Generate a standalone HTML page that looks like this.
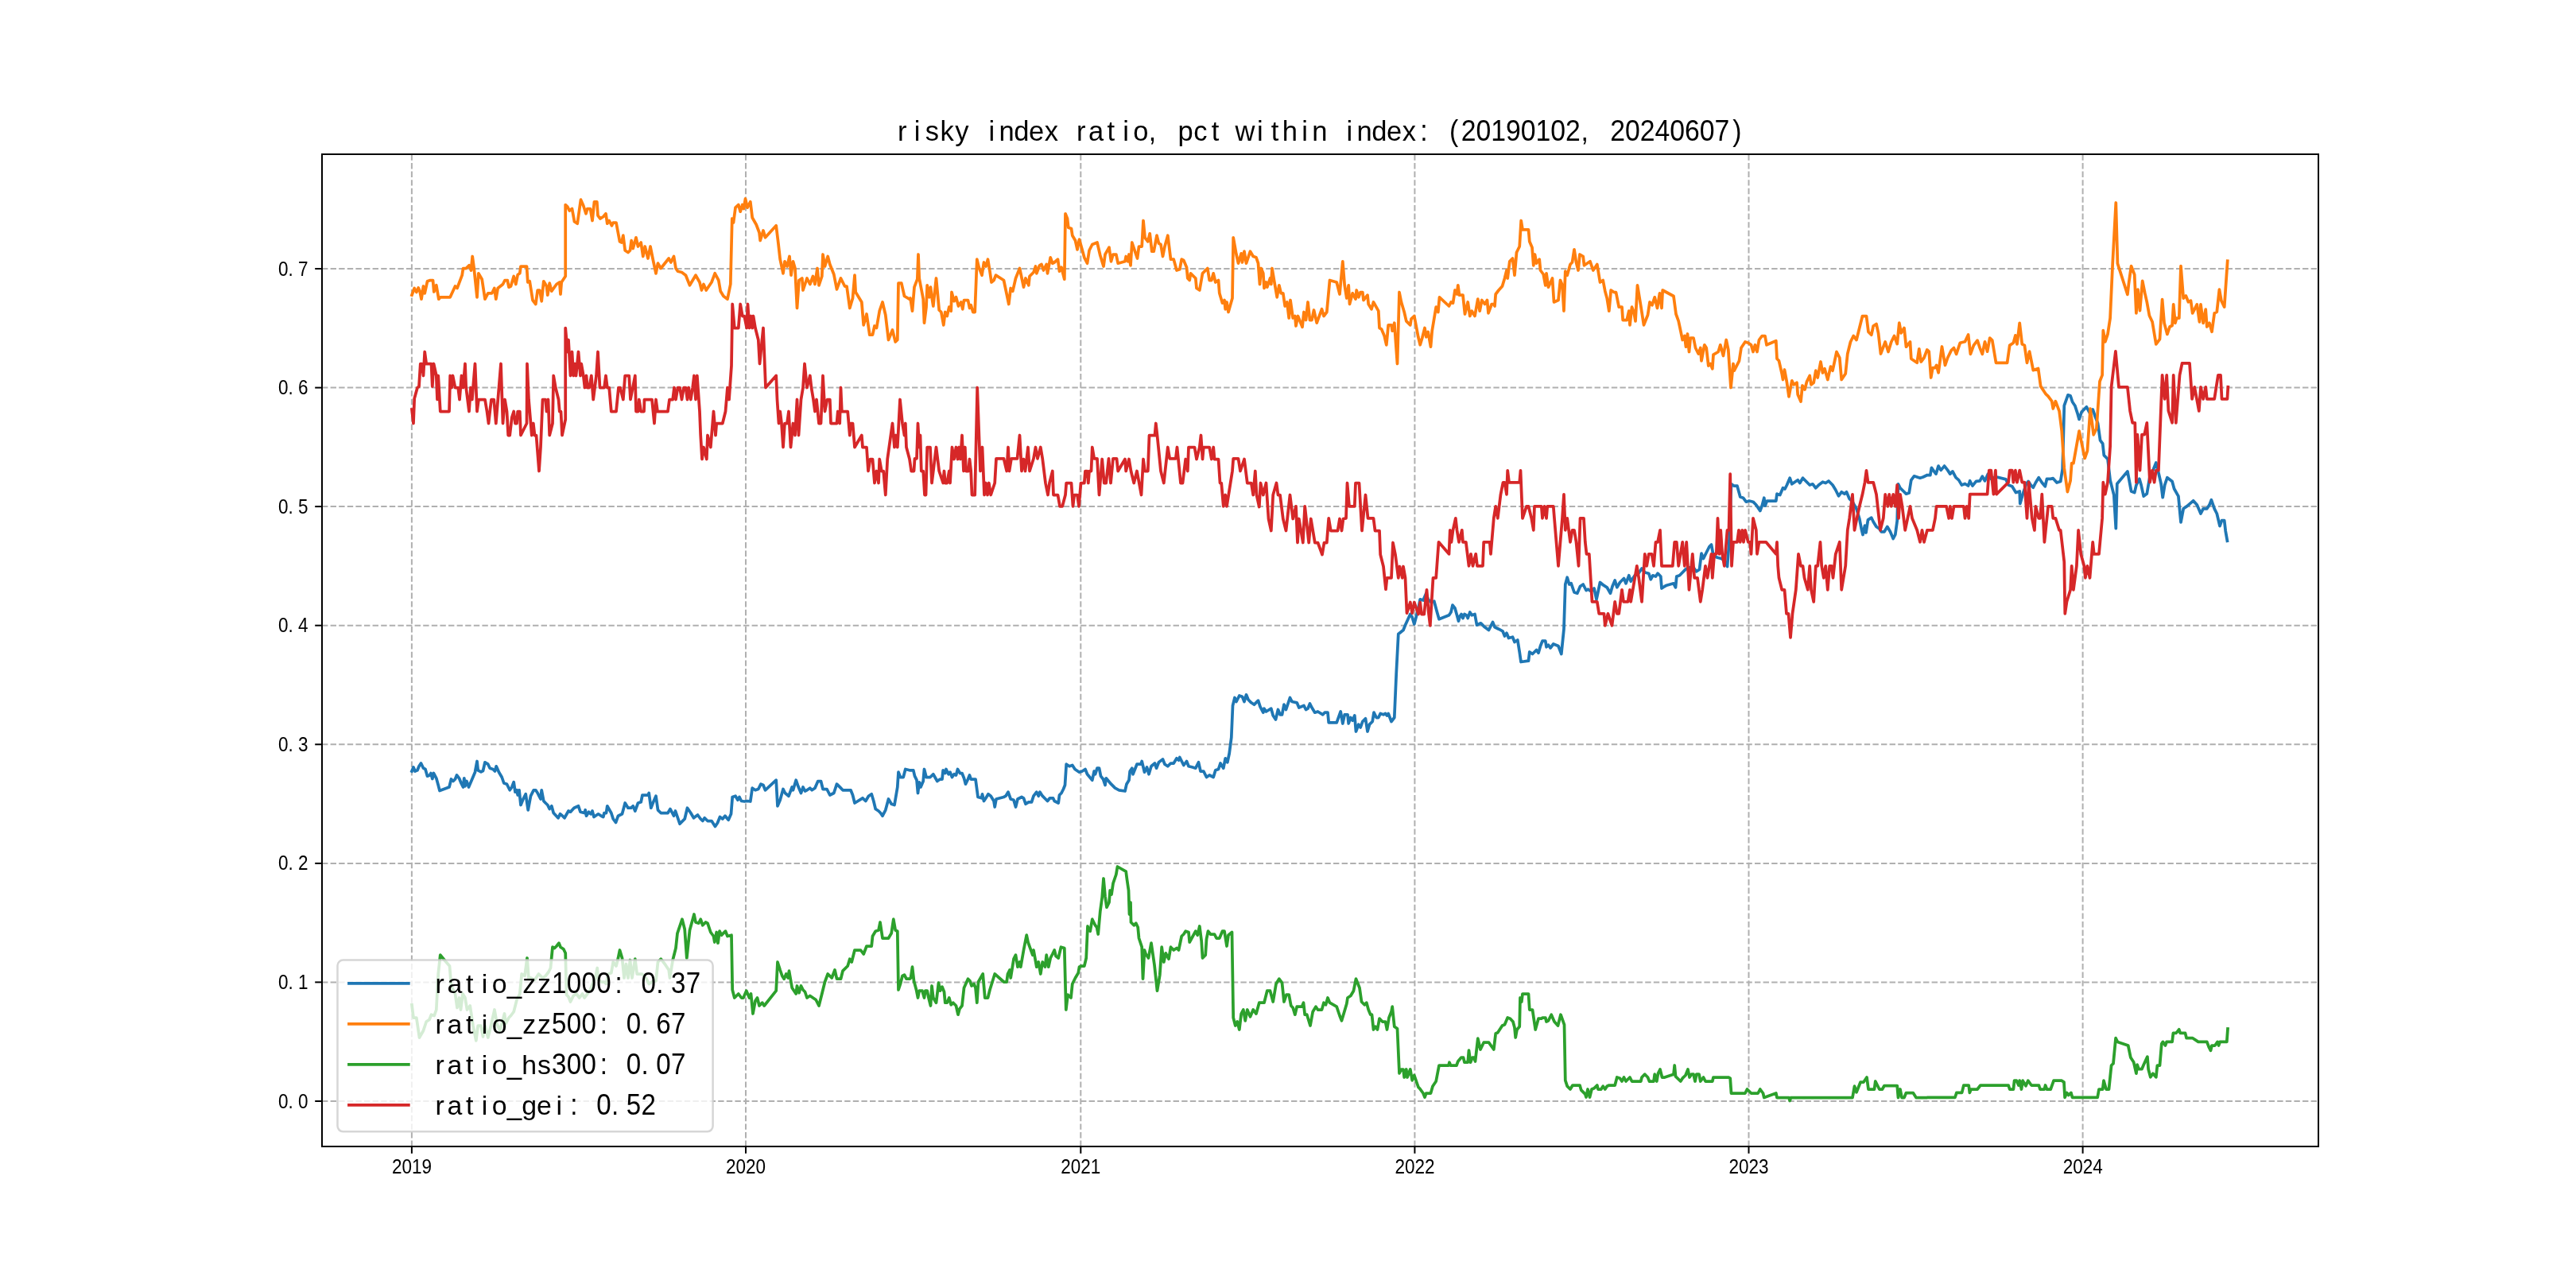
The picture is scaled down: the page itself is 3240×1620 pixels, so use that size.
<!DOCTYPE html>
<html><head><meta charset="utf-8"><style>
html,body{margin:0;padding:0;background:#fff;width:3240px;height:1620px;overflow:hidden}
svg{display:block;will-change:transform}
</style></head><body>
<svg width="3240" height="1620" viewBox="0 0 3240 1620">
<rect width="3240" height="1620" fill="#fff"/>
<g stroke="#b0b0b0" stroke-width="2" stroke-dasharray="7.4 3.2" fill="none"><line x1="517.9" y1="1442.0" x2="517.9" y2="194.0"/><line x1="938.0" y1="1442.0" x2="938.0" y2="194.0"/><line x1="1359.3" y1="1442.0" x2="1359.3" y2="194.0"/><line x1="1779.4" y1="1442.0" x2="1779.4" y2="194.0"/><line x1="2199.5" y1="1442.0" x2="2199.5" y2="194.0"/><line x1="2619.6" y1="1442.0" x2="2619.6" y2="194.0"/><line x1="405.0" y1="1385.0" x2="2916.0" y2="1385.0"/><line x1="405.0" y1="1235.4" x2="2916.0" y2="1235.4"/><line x1="405.0" y1="1085.9" x2="2916.0" y2="1085.9"/><line x1="405.0" y1="936.3" x2="2916.0" y2="936.3"/><line x1="405.0" y1="786.7" x2="2916.0" y2="786.7"/><line x1="405.0" y1="637.1" x2="2916.0" y2="637.1"/><line x1="405.0" y1="487.6" x2="2916.0" y2="487.6"/><line x1="405.0" y1="338.0" x2="2916.0" y2="338.0"/></g><path d="M518.0 970.0 L520.0 965.0 L522.0 970.0 L525.0 968.8 L527.0 963.8 L529.5 960.0 L532.5 966.2 L535.0 967.5 L537.5 976.2 L540.5 975.0 L542.0 972.5 L543.8 979.5 L545.5 972.5 L548.8 978.8 L551.2 987.5 L553.0 994.5 L565.0 990.0 L567.5 980.0 L570.0 982.5 L572.5 980.0 L574.5 975.0 L577.5 978.8 L580.0 985.0 L582.5 990.0 L583.8 978.8 L585.0 988.8 L587.0 982.5 L589.5 990.0 L593.8 980.0 L597.5 971.2 L600.0 957.5 L601.2 968.8 L605.0 970.8 L607.5 969.5 L610.0 958.8 L613.8 961.2 L616.2 966.2 L620.0 967.5 L622.5 970.0 L624.2 963.8 L627.5 971.2 L631.2 977.5 L633.8 985.0 L637.5 986.2 L641.2 993.8 L643.8 990.0 L646.2 983.8 L648.0 996.2 L650.0 993.8 L651.2 1000.0 L653.0 993.8 L655.0 1012.5 L657.5 1006.2 L661.2 998.8 L664.2 1018.8 L667.5 1001.2 L671.2 993.8 L673.8 993.8 L676.2 997.5 L678.0 1001.2 L680.0 1005.0 L681.2 993.8 L683.8 1007.5 L686.2 1010.0 L688.8 1012.5 L691.2 1017.5 L693.8 1013.8 L696.2 1022.5 L702.0 1028.8 L704.5 1023.8 L707.5 1026.2 L710.0 1028.8 L715.0 1020.0 L717.5 1021.2 L722.0 1016.2 L727.5 1013.8 L730.0 1021.2 L735.0 1022.5 L736.2 1018.8 L737.5 1026.2 L740.5 1021.2 L743.0 1023.8 L745.0 1020.0 L747.0 1027.5 L752.5 1023.8 L756.2 1026.2 L758.8 1027.5 L760.0 1022.5 L762.5 1022.5 L763.8 1013.8 L768.8 1022.5 L771.2 1030.0 L774.5 1034.5 L777.5 1026.2 L782.5 1023.8 L786.2 1010.0 L790.0 1016.2 L793.8 1016.2 L796.2 1013.8 L798.8 1020.0 L802.5 1010.0 L806.2 1008.8 L808.0 1000.0 L815.0 1000.0 L816.2 997.5 L818.8 1016.2 L821.2 1010.0 L825.0 1001.2 L827.5 1018.8 L831.2 1022.5 L840.0 1022.5 L843.0 1017.5 L847.5 1026.2 L849.5 1020.0 L855.0 1036.2 L861.2 1030.0 L864.5 1016.2 L868.8 1022.5 L872.5 1028.8 L877.5 1025.0 L881.2 1030.0 L883.8 1032.5 L886.2 1028.8 L890.0 1032.5 L895.0 1032.5 L899.5 1039.5 L902.5 1035.0 L905.5 1027.5 L908.8 1030.0 L912.0 1026.2 L916.2 1031.2 L919.5 1023.8 L921.2 1002.5 L925.0 1001.2 L928.0 1006.2 L930.0 1002.5 L932.5 1007.5 L936.2 1008.0 L940.0 1007.5 L943.8 1008.0 L946.2 991.2 L950.0 993.8 L953.8 992.5 L957.0 986.2 L960.0 987.5 L962.5 993.8 L976.2 981.2 L978.0 1013.8 L981.2 1006.2 L985.0 992.5 L987.5 997.5 L992.0 1001.2 L996.2 990.0 L997.5 993.8 L1001.2 981.2 L1003.8 988.8 L1007.5 997.5 L1010.0 990.0 L1012.5 995.0 L1015.0 993.8 L1018.8 991.2 L1021.2 993.8 L1025.0 991.2 L1028.8 982.5 L1032.5 982.5 L1035.0 992.5 L1040.0 992.5 L1043.8 1000.0 L1048.8 997.5 L1052.5 986.2 L1057.5 991.2 L1060.0 993.8 L1066.2 993.8 L1070.0 993.8 L1072.5 1000.0 L1075.0 1010.0 L1085.0 1003.8 L1088.8 1007.5 L1092.5 1001.2 L1096.2 998.8 L1098.8 1007.5 L1101.2 1017.5 L1105.0 1020.0 L1107.5 1022.5 L1110.0 1026.2 L1113.8 1018.8 L1117.5 1005.0 L1121.2 1011.2 L1125.0 1012.5 L1128.8 990.0 L1130.0 971.2 L1132.5 977.5 L1136.2 977.5 L1138.8 967.5 L1144.0 968.8 L1148.8 968.8 L1150.5 976.2 L1153.0 981.2 L1154.5 997.5 L1156.2 983.8 L1158.0 990.0 L1161.2 982.5 L1162.5 967.5 L1165.0 977.5 L1170.0 977.5 L1173.8 973.8 L1178.8 982.5 L1182.5 980.0 L1185.0 980.0 L1186.2 968.8 L1188.8 972.5 L1190.0 967.5 L1193.0 973.8 L1195.0 971.2 L1197.5 977.5 L1200.0 973.8 L1202.5 975.0 L1204.5 967.5 L1207.5 972.5 L1210.0 972.5 L1212.5 978.8 L1214.5 986.2 L1217.5 980.0 L1219.5 975.0 L1221.2 980.0 L1227.0 980.0 L1230.0 1002.5 L1234.5 1003.8 L1235.5 998.8 L1237.5 1007.5 L1240.0 1003.8 L1243.0 998.8 L1246.2 1001.2 L1250.0 1007.5 L1251.2 1015.0 L1253.0 1005.0 L1262.5 1002.5 L1265.0 1001.2 L1268.0 996.2 L1271.2 1005.0 L1275.0 1006.2 L1277.5 1015.0 L1280.0 1005.0 L1285.0 1002.5 L1287.5 1003.8 L1290.0 1011.2 L1293.8 1008.8 L1297.5 1008.8 L1300.0 1001.2 L1303.8 996.2 L1306.2 1001.2 L1308.0 996.2 L1311.2 1001.2 L1315.0 1005.0 L1317.5 1007.5 L1320.5 1003.8 L1324.5 1003.8 L1326.2 1007.5 L1331.2 1010.0 L1332.5 1000.0 L1335.0 997.5 L1337.5 992.5 L1339.5 987.5 L1341.2 961.2 L1345.0 963.8 L1348.8 962.5 L1352.0 967.5 L1357.5 971.2 L1361.2 970.0 L1365.0 967.5 L1367.5 973.8 L1373.8 981.2 L1376.2 970.0 L1377.5 973.8 L1380.0 966.2 L1382.5 966.2 L1384.5 976.2 L1387.5 980.0 L1390.0 987.5 L1391.2 978.8 L1397.5 986.2 L1402.5 991.2 L1407.5 993.8 L1415.0 995.0 L1417.0 986.2 L1420.0 981.2 L1421.2 970.0 L1423.8 966.2 L1425.0 973.8 L1430.0 961.2 L1435.0 961.2 L1436.2 957.5 L1439.5 971.2 L1442.5 965.0 L1445.0 973.8 L1448.0 963.8 L1452.5 960.0 L1454.5 966.2 L1457.5 958.8 L1462.5 955.0 L1465.0 961.2 L1468.8 963.8 L1472.5 960.0 L1476.2 960.0 L1480.0 953.8 L1482.5 956.2 L1483.8 952.5 L1488.8 962.5 L1492.5 957.5 L1495.0 963.8 L1500.0 965.0 L1503.8 966.2 L1507.5 958.8 L1510.0 970.0 L1513.8 970.0 L1517.5 977.5 L1521.2 975.0 L1526.2 977.5 L1528.8 968.8 L1532.5 967.5 L1535.0 960.0 L1538.8 966.2 L1541.2 953.8 L1543.8 958.8 L1546.2 947.5 L1548.8 927.5 L1550.5 887.5 L1553.0 877.5 L1555.0 882.5 L1558.8 875.0 L1562.5 876.2 L1565.0 882.5 L1567.5 873.8 L1570.0 880.0 L1573.8 883.8 L1577.5 886.2 L1582.5 881.2 L1585.0 888.8 L1588.8 896.2 L1590.0 891.2 L1592.5 895.0 L1598.8 891.2 L1601.2 900.0 L1604.5 905.0 L1607.5 892.5 L1610.0 898.8 L1612.5 898.8 L1615.0 886.2 L1617.5 892.5 L1622.5 877.5 L1625.0 882.5 L1631.2 883.8 L1633.8 890.0 L1640.0 887.5 L1642.5 892.5 L1645.0 891.2 L1647.5 885.0 L1650.0 890.0 L1653.8 896.2 L1657.5 895.0 L1663.8 898.8 L1666.2 896.2 L1670.0 896.2 L1671.2 908.8 L1681.2 908.8 L1686.2 895.0 L1688.8 910.0 L1691.2 898.8 L1695.0 898.8 L1696.2 910.0 L1698.8 902.5 L1701.2 906.2 L1703.8 900.0 L1705.5 920.0 L1708.8 911.2 L1711.2 915.0 L1713.8 907.5 L1717.5 903.8 L1720.0 920.0 L1722.5 911.2 L1726.2 907.5 L1728.0 896.2 L1731.2 902.5 L1733.8 902.5 L1736.2 897.5 L1740.0 898.8 L1742.5 897.5 L1744.5 900.0 L1746.2 897.5 L1750.0 907.5 L1753.8 902.5 L1756.2 847.5 L1758.8 797.5 L1765.0 792.5 L1767.5 786.2 L1773.8 772.5 L1776.2 776.2 L1778.8 785.0 L1784.0 765.0 L1786.2 753.8 L1790.0 755.0 L1793.8 746.2 L1796.2 753.8 L1800.0 757.5 L1803.8 756.2 L1807.5 770.0 L1810.0 778.8 L1822.5 773.8 L1825.0 770.0 L1827.0 761.2 L1830.0 765.0 L1832.5 773.8 L1834.5 781.2 L1836.2 775.0 L1838.0 772.5 L1840.0 777.5 L1842.0 772.5 L1844.5 773.8 L1846.2 777.5 L1848.8 770.0 L1851.2 773.8 L1855.0 772.5 L1857.5 786.2 L1862.5 783.8 L1867.5 788.8 L1872.5 792.5 L1877.5 782.5 L1880.0 788.8 L1885.0 791.2 L1890.0 793.8 L1892.5 800.0 L1895.0 796.2 L1897.5 802.5 L1902.5 801.2 L1905.0 807.5 L1908.8 805.0 L1911.2 820.0 L1913.0 832.5 L1922.5 831.2 L1923.8 820.0 L1927.5 822.5 L1932.5 817.5 L1935.0 821.2 L1937.5 812.5 L1940.0 806.2 L1943.8 806.2 L1945.0 813.8 L1947.5 811.2 L1950.0 815.0 L1953.8 810.0 L1960.0 812.5 L1963.8 822.5 L1967.0 791.2 L1968.8 735.0 L1971.2 726.2 L1973.8 735.0 L1976.2 733.8 L1980.0 745.0 L1983.8 746.2 L1987.5 737.5 L1991.2 735.0 L1995.0 742.5 L1997.5 741.2 L2001.2 743.8 L2005.0 740.0 L2008.0 753.8 L2012.5 732.5 L2017.0 736.2 L2021.2 738.8 L2025.5 746.2 L2028.0 737.5 L2031.2 730.0 L2033.8 738.8 L2037.5 732.5 L2042.5 727.5 L2045.0 733.8 L2048.8 723.8 L2051.2 731.2 L2056.2 723.8 L2060.0 722.5 L2065.0 715.0 L2068.8 720.0 L2073.8 721.2 L2076.2 728.8 L2078.8 723.8 L2082.5 725.0 L2085.0 721.2 L2088.8 725.0 L2090.0 740.0 L2093.8 737.5 L2096.2 736.2 L2105.0 733.8 L2107.5 738.8 L2108.8 725.0 L2112.5 723.8 L2116.2 720.0 L2120.0 716.2 L2123.8 713.8 L2130.0 713.8 L2133.8 718.8 L2137.5 716.2 L2140.0 696.2 L2142.5 702.5 L2146.2 695.0 L2150.0 687.5 L2152.5 685.0 L2155.0 698.8 L2160.0 701.2 L2165.0 702.5 L2168.8 705.0 L2172.5 712.5 L2175.0 680.0 L2177.5 608.8 L2181.2 611.2 L2185.0 611.2 L2188.8 625.0 L2192.5 626.2 L2196.2 631.2 L2200.0 630.0 L2205.0 631.2 L2208.8 635.0 L2213.8 642.5 L2216.2 636.2 L2218.8 626.2 L2220.0 636.2 L2222.5 630.0 L2233.8 630.0 L2235.0 621.2 L2238.8 622.5 L2242.5 613.8 L2245.0 615.0 L2247.5 610.0 L2251.2 601.2 L2253.8 608.8 L2257.5 606.2 L2261.2 603.8 L2263.8 607.5 L2267.5 601.2 L2271.2 605.0 L2276.2 610.0 L2280.0 608.8 L2283.8 613.8 L2287.5 610.0 L2292.5 606.2 L2296.2 607.5 L2300.0 605.0 L2305.0 610.0 L2308.8 616.2 L2312.5 623.8 L2316.2 618.8 L2320.0 621.2 L2322.5 618.8 L2326.2 627.5 L2330.0 631.2 L2335.0 640.0 L2338.8 652.5 L2341.2 665.0 L2343.0 672.5 L2345.5 661.2 L2347.0 670.0 L2349.5 653.8 L2353.8 651.2 L2356.2 656.2 L2360.0 662.5 L2363.8 665.0 L2366.2 668.8 L2370.0 668.8 L2373.8 662.5 L2377.5 668.8 L2381.2 677.5 L2383.8 672.5 L2386.2 655.0 L2387.5 608.8 L2390.0 613.8 L2393.8 617.5 L2397.5 621.2 L2401.2 620.0 L2403.8 603.8 L2407.5 598.8 L2411.2 600.0 L2415.0 601.2 L2418.8 600.0 L2424.0 597.5 L2427.8 597.6 L2429.4 588.3 L2432.5 592.9 L2435.0 596.1 L2438.1 586.1 L2441.2 591.4 L2445.6 586.1 L2449.7 591.4 L2452.8 596.1 L2455.9 592.9 L2460.0 600.7 L2463.7 603.9 L2467.4 610.1 L2471.5 608.5 L2475.6 611.0 L2477.7 604.8 L2480.9 611.0 L2485.5 605.4 L2490.2 604.8 L2493.3 599.2 L2496.5 604.8 L2500.5 596.1 L2504.3 602.3 L2510.5 599.8 L2523.0 602.9 L2526.1 610.1 L2530.8 611.7 L2535.5 619.5 L2540.2 617.9 L2540.8 633.5 L2544.8 619.5 L2548.6 608.5 L2551.1 605.4 L2554.2 610.1 L2557.3 613.2 L2560.4 607.0 L2564.2 600.7 L2568.3 607.0 L2572.3 611.7 L2574.5 602.3 L2579.2 602.3 L2582.3 601.7 L2587.0 607.0 L2591.7 605.4 L2594.2 589.8 L2596.3 510.2 L2601.0 496.8 L2604.1 497.7 L2606.6 505.5 L2609.8 510.2 L2612.9 519.6 L2615.1 527.4 L2618.2 518.0 L2624.4 511.8 L2628.5 519.6 L2632.2 514.9 L2635.4 524.3 L2638.5 532.1 L2641.6 553.9 L2644.7 558.0 L2646.3 572.6 L2649.4 575.8 L2651.0 577.3 L2654.1 603.9 L2658.8 622.6 L2661.3 664.7 L2662.8 608.5 L2675.9 592.9 L2680.6 617.9 L2684.7 619.5 L2686.9 610.1 L2690.9 602.3 L2693.1 610.1 L2696.2 624.1 L2700.3 621.0 L2704.0 599.2 L2708.7 589.8 L2711.8 582.0 L2714.9 594.5 L2718.1 608.5 L2720.2 625.7 L2722.7 610.1 L2725.9 600.7 L2732.1 605.4 L2734.6 614.8 L2739.9 624.1 L2743.0 656.9 L2746.2 639.8 L2750.8 636.6 L2758.6 629.8 L2763.3 635.1 L2768.0 646.0 L2771.1 639.8 L2775.8 639.8 L2778.9 635.1 L2781.4 628.8 L2785.2 639.8 L2788.3 646.0 L2792.0 661.6 L2794.5 654.7 L2797.7 654.7 L2799.2 667.8 L2801.4 680.3" fill="none" stroke="#1f77b4" stroke-width="3.75" stroke-linejoin="round" stroke-linecap="square"/><path d="M518.0 371.2 L521.2 362.5 L523.8 367.5 L526.2 362.0 L528.0 366.2 L530.0 376.2 L532.5 360.0 L534.2 368.8 L537.5 353.8 L541.2 352.5 L544.5 352.5 L545.8 367.0 L548.8 358.8 L551.8 376.2 L553.8 373.8 L566.2 373.8 L572.5 360.0 L575.0 362.5 L581.2 346.2 L582.5 337.5 L586.2 337.5 L590.0 333.8 L592.5 340.0 L594.2 322.5 L596.2 337.5 L600.0 373.8 L601.8 343.8 L606.2 351.2 L610.0 376.2 L613.8 368.8 L618.8 368.8 L621.8 362.5 L623.8 376.2 L626.2 362.5 L632.5 357.5 L635.0 352.5 L638.2 352.5 L640.0 361.2 L642.5 360.0 L646.2 347.5 L648.8 357.5 L651.2 345.5 L653.8 343.8 L655.0 335.0 L662.5 335.0 L663.8 355.0 L666.2 353.8 L670.0 377.5 L673.8 382.5 L676.2 365.0 L678.8 365.0 L681.2 378.8 L683.8 353.8 L687.5 360.0 L688.8 371.2 L691.2 356.2 L693.8 366.2 L700.0 357.5 L703.8 355.0 L705.0 370.0 L706.2 355.0 L711.2 347.5 L711.2 257.5 L713.8 260.0 L716.2 265.0 L719.5 262.5 L722.5 278.8 L726.2 281.2 L730.5 251.2 L733.8 258.8 L737.0 268.8 L738.8 262.5 L742.5 262.5 L745.0 277.5 L747.5 253.8 L750.8 253.8 L752.0 271.2 L755.0 275.0 L758.8 272.5 L762.0 268.8 L763.8 281.2 L766.2 277.5 L769.5 283.8 L771.2 280.0 L775.0 280.0 L779.5 303.8 L782.0 305.0 L783.8 296.2 L786.2 315.0 L790.0 317.5 L792.5 315.0 L794.2 302.5 L796.2 312.5 L800.0 298.8 L802.5 310.0 L806.2 305.0 L808.8 322.5 L811.2 310.0 L815.0 325.0 L818.0 310.0 L821.2 326.2 L825.0 343.8 L827.5 331.2 L831.2 337.5 L841.2 325.0 L843.8 330.0 L847.5 322.5 L850.0 337.5 L852.5 341.2 L857.5 342.5 L862.5 346.2 L867.5 358.8 L875.0 346.2 L880.0 355.0 L882.5 365.0 L885.0 357.5 L888.2 365.0 L895.0 355.0 L899.2 343.8 L903.8 352.5 L906.2 366.2 L910.0 372.5 L915.0 376.2 L918.8 357.5 L920.8 275.0 L922.5 280.0 L925.0 261.2 L928.8 257.5 L931.2 266.2 L933.8 257.5 L935.5 262.5 L937.5 250.0 L940.0 261.2 L943.8 253.8 L946.2 273.8 L951.2 282.5 L955.0 292.5 L956.2 302.5 L960.0 290.0 L962.5 298.8 L976.2 283.8 L978.8 305.0 L981.2 326.2 L985.0 343.8 L987.0 328.8 L990.0 335.0 L993.0 322.5 L995.0 346.2 L997.5 328.8 L1000.0 337.5 L1002.5 387.5 L1005.0 352.5 L1008.8 350.0 L1010.0 365.0 L1015.0 350.0 L1018.8 357.5 L1022.5 347.5 L1025.0 357.5 L1028.0 337.5 L1030.0 358.8 L1033.8 347.5 L1035.0 320.0 L1037.5 335.0 L1041.2 322.5 L1043.8 332.5 L1048.8 345.0 L1052.5 363.8 L1057.5 350.0 L1062.5 360.0 L1065.0 360.0 L1068.8 387.5 L1072.5 375.0 L1075.0 346.2 L1076.2 367.5 L1083.8 380.0 L1086.2 408.8 L1090.0 395.0 L1093.8 421.2 L1097.5 421.2 L1100.0 410.0 L1102.5 412.5 L1106.2 391.2 L1110.0 380.0 L1113.8 396.2 L1117.5 427.5 L1122.5 415.0 L1126.2 430.0 L1128.8 427.5 L1130.0 356.2 L1133.8 356.2 L1137.5 372.5 L1143.8 376.2 L1145.0 375.0 L1147.5 391.2 L1150.0 361.2 L1153.8 351.2 L1155.0 320.0 L1156.2 350.0 L1161.2 376.2 L1162.5 406.2 L1165.0 386.2 L1166.2 358.8 L1168.8 373.8 L1170.5 361.2 L1172.0 373.8 L1173.8 385.0 L1177.5 350.0 L1181.2 390.0 L1183.8 392.5 L1186.8 408.8 L1188.8 392.5 L1191.2 397.5 L1193.8 386.2 L1196.2 391.2 L1197.0 367.5 L1200.0 378.8 L1202.5 373.8 L1205.5 385.0 L1208.8 380.0 L1210.8 388.8 L1212.5 377.5 L1217.5 377.5 L1219.5 387.5 L1221.2 383.8 L1223.8 392.5 L1226.2 392.5 L1228.8 326.2 L1231.2 336.2 L1235.0 346.2 L1237.5 330.0 L1240.0 335.0 L1242.5 326.2 L1245.0 341.2 L1247.0 355.0 L1250.0 352.5 L1252.5 346.2 L1262.5 352.5 L1266.2 370.0 L1268.8 382.5 L1271.2 362.5 L1273.8 366.2 L1277.5 350.0 L1282.5 337.5 L1287.5 361.2 L1290.0 350.0 L1293.8 358.8 L1295.0 347.5 L1300.0 342.5 L1302.5 335.0 L1303.8 343.8 L1307.5 333.8 L1310.0 332.5 L1312.5 340.0 L1316.2 332.5 L1317.5 343.8 L1321.2 323.8 L1323.8 331.2 L1326.2 330.0 L1330.5 326.2 L1332.5 341.2 L1335.0 336.2 L1338.8 351.2 L1340.0 268.8 L1342.5 275.0 L1343.8 286.2 L1347.5 287.5 L1348.8 296.2 L1352.5 302.5 L1355.0 313.8 L1357.5 301.2 L1360.0 310.0 L1363.8 323.8 L1367.5 331.2 L1370.0 315.0 L1373.8 307.5 L1380.0 305.0 L1383.8 321.2 L1388.0 335.0 L1390.0 320.0 L1395.0 311.2 L1397.5 328.8 L1400.0 320.0 L1403.8 320.0 L1406.2 331.2 L1415.0 328.8 L1416.2 322.5 L1418.8 328.8 L1420.0 320.0 L1422.0 333.8 L1423.8 305.0 L1427.5 316.2 L1430.5 325.0 L1432.5 310.0 L1436.2 310.0 L1438.0 277.5 L1440.0 298.8 L1443.8 303.8 L1446.2 293.8 L1448.8 316.2 L1451.2 316.2 L1455.0 296.2 L1457.5 306.2 L1460.0 307.5 L1462.5 322.5 L1465.0 310.0 L1468.8 296.2 L1472.5 326.2 L1476.2 326.2 L1480.0 340.0 L1483.8 338.8 L1486.2 326.2 L1488.8 327.5 L1492.5 336.2 L1493.8 350.0 L1496.2 352.5 L1497.5 343.8 L1503.8 350.0 L1505.0 362.5 L1508.8 365.0 L1512.5 343.8 L1518.8 337.5 L1521.2 352.5 L1523.8 352.5 L1526.2 343.8 L1528.8 355.0 L1532.5 352.5 L1533.8 368.8 L1537.5 381.2 L1540.0 377.5 L1541.2 388.8 L1543.0 380.0 L1545.0 392.5 L1550.0 375.0 L1551.2 298.8 L1555.0 320.0 L1557.5 331.2 L1561.2 318.8 L1562.5 330.0 L1565.0 316.2 L1567.5 331.2 L1572.5 316.2 L1576.2 322.5 L1580.0 323.8 L1582.5 331.2 L1584.5 357.5 L1586.2 337.5 L1588.8 343.8 L1590.0 362.5 L1592.5 355.0 L1593.8 361.2 L1597.5 350.0 L1598.8 357.5 L1600.0 337.5 L1602.5 352.5 L1606.2 373.8 L1608.8 358.8 L1611.2 368.8 L1613.8 368.8 L1616.2 385.0 L1618.8 380.0 L1621.2 400.0 L1623.0 377.5 L1626.2 400.0 L1628.8 397.5 L1630.0 410.0 L1632.5 397.5 L1635.5 405.0 L1638.0 411.2 L1640.0 392.5 L1642.5 402.5 L1645.0 380.0 L1647.5 402.5 L1650.0 402.5 L1652.5 390.0 L1656.2 406.2 L1662.5 388.8 L1665.0 397.5 L1668.8 392.5 L1672.5 352.5 L1681.2 355.0 L1685.0 370.0 L1688.8 328.8 L1691.2 358.8 L1693.8 375.0 L1696.2 358.8 L1697.5 382.5 L1701.2 368.8 L1705.0 376.2 L1706.2 365.0 L1708.8 373.8 L1711.2 367.5 L1713.8 367.5 L1715.0 377.5 L1720.0 371.2 L1721.2 382.5 L1725.0 388.8 L1727.5 380.0 L1733.8 391.2 L1735.0 412.5 L1737.5 413.8 L1741.2 422.5 L1743.8 433.8 L1746.2 408.8 L1750.0 408.8 L1751.2 416.2 L1753.8 406.2 L1757.5 457.5 L1760.0 367.5 L1762.5 380.0 L1766.2 392.5 L1768.8 403.8 L1773.8 408.8 L1775.0 401.2 L1778.8 397.5 L1783.8 423.8 L1783.8 423.8 L1786.2 433.8 L1788.8 425.0 L1792.0 412.5 L1793.8 423.8 L1796.2 417.5 L1799.5 436.2 L1801.2 416.2 L1806.2 386.2 L1808.8 392.5 L1810.5 373.8 L1822.5 385.0 L1825.0 380.0 L1827.5 381.2 L1830.0 365.0 L1832.5 370.0 L1833.8 358.8 L1835.5 371.2 L1840.0 371.2 L1842.5 395.0 L1846.2 380.0 L1848.8 397.5 L1851.2 391.2 L1855.0 397.5 L1858.8 376.2 L1861.2 391.2 L1863.8 377.5 L1867.5 382.5 L1870.5 377.5 L1872.0 393.8 L1876.2 382.5 L1878.8 382.5 L1880.0 385.0 L1881.2 370.0 L1885.0 365.0 L1889.5 360.0 L1892.5 350.0 L1895.0 340.0 L1896.2 350.0 L1898.8 328.8 L1902.5 325.0 L1905.0 346.2 L1907.5 317.5 L1911.2 310.0 L1913.2 277.5 L1915.0 288.8 L1922.5 288.8 L1923.8 303.8 L1927.0 311.2 L1928.8 333.8 L1930.5 320.0 L1932.5 331.2 L1936.2 326.2 L1937.5 340.0 L1941.2 345.0 L1943.8 358.8 L1945.0 343.8 L1947.5 361.2 L1952.5 350.0 L1954.5 380.0 L1960.0 377.5 L1962.5 352.5 L1965.0 358.8 L1967.0 391.2 L1968.8 341.2 L1971.2 346.2 L1975.0 332.5 L1977.5 330.0 L1980.0 313.8 L1982.5 330.0 L1985.0 340.0 L1987.0 320.0 L1991.2 322.5 L1992.5 333.8 L2000.0 328.8 L2003.8 340.0 L2008.8 332.5 L2012.5 355.0 L2016.2 352.5 L2018.8 366.2 L2021.2 375.0 L2023.8 391.2 L2026.2 365.0 L2030.0 367.5 L2032.5 367.5 L2036.2 386.2 L2040.0 386.2 L2041.2 402.5 L2043.8 402.5 L2046.2 402.5 L2048.8 391.2 L2050.0 408.8 L2052.5 386.2 L2055.0 392.5 L2057.0 403.8 L2059.5 358.8 L2063.8 385.0 L2067.5 408.8 L2072.5 396.2 L2075.0 380.0 L2078.0 383.8 L2081.2 373.8 L2084.5 387.5 L2087.5 368.8 L2090.0 387.5 L2091.2 365.0 L2105.0 372.5 L2108.0 395.0 L2111.2 403.8 L2113.8 416.2 L2116.2 427.5 L2118.8 422.5 L2120.5 436.2 L2122.5 420.0 L2124.5 442.5 L2126.2 425.0 L2130.0 425.0 L2132.5 437.5 L2136.2 445.0 L2138.8 437.5 L2140.0 453.8 L2143.8 433.8 L2146.2 437.5 L2148.8 460.0 L2151.2 457.5 L2153.8 463.8 L2155.0 446.2 L2161.2 442.5 L2163.8 433.8 L2167.5 447.5 L2171.2 427.5 L2173.8 440.0 L2177.0 487.5 L2180.0 457.5 L2181.2 466.2 L2187.5 453.8 L2190.0 437.5 L2195.0 430.0 L2198.8 431.2 L2202.5 433.8 L2205.0 442.5 L2207.5 433.8 L2210.0 442.5 L2212.5 427.5 L2216.2 422.5 L2220.0 422.5 L2222.0 433.8 L2233.8 428.8 L2235.0 451.2 L2237.5 453.8 L2241.2 470.0 L2242.5 477.5 L2244.5 465.0 L2247.5 481.2 L2250.0 498.8 L2253.8 478.8 L2256.2 483.8 L2260.0 481.2 L2261.2 496.2 L2265.0 505.0 L2267.0 485.0 L2270.0 490.0 L2272.5 480.0 L2276.2 472.5 L2278.0 483.8 L2281.2 481.2 L2283.8 466.2 L2286.2 475.0 L2290.0 455.0 L2292.5 468.8 L2295.0 463.8 L2298.8 477.5 L2302.5 461.2 L2305.0 466.2 L2310.0 442.5 L2313.8 450.0 L2316.2 477.5 L2321.2 470.0 L2323.8 445.0 L2327.5 430.0 L2331.2 422.5 L2335.0 427.5 L2342.5 397.5 L2347.5 397.5 L2350.0 417.5 L2353.8 421.2 L2356.2 410.0 L2360.0 407.5 L2362.5 418.8 L2365.5 445.0 L2371.2 430.0 L2375.0 442.5 L2378.8 430.0 L2382.5 422.5 L2386.2 432.5 L2388.8 406.2 L2391.2 418.8 L2395.0 412.5 L2397.5 436.2 L2402.5 430.0 L2403.8 451.2 L2411.2 456.2 L2413.8 438.8 L2416.2 455.0 L2420.0 450.0 L2423.8 440.0 L2426.2 442.2 L2428.7 475.0 L2430.9 462.5 L2434.0 462.5 L2435.6 459.4 L2438.1 468.8 L2442.5 436.0 L2446.5 459.4 L2449.7 450.0 L2454.3 440.7 L2457.5 437.6 L2460.6 445.4 L2465.3 431.3 L2471.5 429.8 L2475.6 421.0 L2478.4 445.4 L2482.4 434.4 L2487.1 428.2 L2490.2 437.6 L2493.3 445.4 L2496.5 429.8 L2499.6 442.2 L2502.7 425.1 L2505.8 428.2 L2510.5 456.3 L2524.6 456.3 L2527.7 434.4 L2532.4 431.3 L2534.9 421.9 L2537.0 432.9 L2540.2 406.3 L2543.3 432.9 L2546.4 434.4 L2549.5 456.3 L2552.6 442.2 L2557.3 465.6 L2563.6 463.5 L2566.7 485.9 L2572.9 495.3 L2576.1 498.4 L2580.7 504.7 L2582.3 514.0 L2585.4 504.7 L2590.1 517.1 L2593.2 542.1 L2596.3 588.9 L2600.4 618.6 L2604.1 604.5 L2605.7 582.7 L2607.9 582.7 L2615.1 542.1 L2622.2 576.4 L2625.4 567.1 L2629.1 514.0 L2633.2 546.8 L2636.9 539.0 L2641.0 479.7 L2644.1 471.9 L2645.3 415.7 L2647.8 429.8 L2651.0 420.4 L2654.1 400.1 L2657.2 331.4 L2661.3 255.0 L2663.4 331.4 L2675.9 370.4 L2677.5 356.4 L2680.6 334.6 L2684.7 345.5 L2686.9 393.9 L2689.0 364.2 L2691.5 390.7 L2694.7 353.3 L2697.8 368.9 L2700.3 379.8 L2703.4 397.0 L2707.1 404.8 L2711.8 432.9 L2716.5 426.6 L2719.6 376.7 L2722.1 406.3 L2725.9 420.4 L2729.0 411.0 L2732.1 409.5 L2733.7 382.9 L2735.9 406.3 L2737.7 400.1 L2740.8 400.1 L2743.0 334.6 L2746.2 375.1 L2749.3 372.0 L2752.4 379.8 L2755.5 378.3 L2757.7 393.9 L2763.3 382.9 L2766.4 404.8 L2768.0 382.9 L2771.1 406.3 L2774.2 389.2 L2775.8 411.0 L2778.9 406.3 L2782.0 417.3 L2785.2 393.9 L2788.3 392.3 L2791.4 364.2 L2793.9 378.3 L2797.7 386.1 L2799.2 364.2 L2801.7 328.3" fill="none" stroke="#ff7f0e" stroke-width="3.75" stroke-linejoin="round" stroke-linecap="square"/><path d="M518.0 1263.8 L520.0 1280.0 L523.8 1280.0 L527.5 1305.0 L532.5 1296.2 L536.2 1285.0 L540.0 1282.5 L542.5 1276.2 L546.2 1277.5 L548.8 1270.0 L551.2 1225.0 L553.8 1201.2 L560.0 1208.8 L565.5 1215.0 L567.5 1240.0 L572.5 1250.0 L575.0 1267.5 L577.5 1255.0 L579.5 1270.0 L582.0 1250.0 L585.0 1255.0 L587.5 1270.0 L591.2 1265.0 L595.0 1290.0 L598.8 1308.8 L601.2 1290.0 L605.0 1290.0 L607.5 1303.8 L610.0 1290.0 L613.8 1305.0 L617.5 1290.0 L622.0 1270.0 L625.0 1287.5 L628.8 1296.2 L631.2 1287.5 L634.5 1275.0 L636.2 1287.5 L640.0 1280.0 L642.5 1277.5 L646.2 1272.5 L650.0 1257.5 L653.8 1250.0 L656.2 1225.0 L660.0 1227.5 L663.0 1205.0 L665.0 1231.2 L667.5 1230.0 L672.5 1232.5 L677.5 1225.0 L682.5 1230.0 L686.2 1227.5 L690.0 1222.5 L692.5 1217.5 L695.0 1191.2 L697.5 1192.5 L700.0 1190.0 L703.0 1186.2 L705.0 1191.2 L708.8 1193.8 L711.2 1198.8 L712.5 1251.2 L715.0 1253.8 L717.5 1260.0 L721.2 1252.5 L725.0 1250.0 L728.8 1255.0 L732.5 1250.0 L735.0 1255.0 L738.8 1250.0 L742.5 1245.0 L746.2 1235.0 L748.8 1230.0 L751.2 1217.5 L752.5 1232.5 L756.2 1235.0 L760.0 1235.0 L762.5 1237.5 L765.0 1225.0 L768.8 1223.8 L771.2 1210.0 L775.0 1215.0 L777.5 1205.0 L779.5 1195.0 L782.5 1205.0 L785.0 1230.0 L787.5 1212.5 L790.0 1230.0 L792.5 1207.5 L795.0 1230.0 L798.8 1206.2 L801.2 1225.0 L807.5 1225.0 L812.5 1230.0 L816.2 1237.5 L820.0 1235.0 L825.0 1233.8 L827.5 1210.0 L831.2 1206.2 L836.2 1212.5 L841.2 1220.0 L842.5 1230.0 L846.2 1207.5 L850.0 1192.5 L852.0 1173.8 L858.0 1156.2 L861.2 1168.8 L863.8 1205.0 L867.5 1170.0 L873.0 1150.0 L875.0 1160.0 L878.8 1161.2 L881.2 1156.2 L883.8 1163.8 L887.5 1160.0 L890.0 1161.2 L893.8 1172.5 L897.5 1177.5 L898.8 1185.0 L901.2 1172.5 L903.0 1186.2 L905.0 1171.2 L907.5 1176.2 L912.5 1171.2 L915.0 1177.5 L920.0 1176.2 L921.2 1245.0 L923.8 1255.0 L928.8 1250.0 L932.5 1255.0 L935.0 1255.0 L938.8 1246.2 L942.5 1255.0 L944.5 1250.0 L947.0 1275.0 L950.0 1258.8 L952.5 1255.0 L955.0 1265.0 L958.8 1261.2 L961.2 1265.0 L976.2 1246.2 L978.0 1210.0 L981.2 1220.0 L983.8 1227.5 L986.2 1231.2 L988.8 1225.0 L991.2 1230.0 L992.5 1221.2 L996.2 1242.5 L1001.2 1250.0 L1002.5 1240.0 L1005.0 1248.8 L1007.5 1240.0 L1010.0 1245.0 L1012.5 1247.5 L1015.0 1255.0 L1018.8 1252.5 L1022.5 1255.0 L1026.2 1257.5 L1030.0 1265.0 L1033.8 1250.0 L1037.5 1235.0 L1041.2 1225.0 L1046.2 1230.0 L1050.0 1220.0 L1052.5 1231.2 L1057.5 1231.2 L1060.0 1221.2 L1066.2 1215.0 L1068.8 1206.2 L1071.2 1210.0 L1075.0 1195.0 L1082.5 1195.0 L1086.2 1200.0 L1090.0 1190.0 L1096.2 1190.0 L1097.5 1177.5 L1101.2 1171.2 L1105.0 1170.0 L1107.0 1160.0 L1110.0 1180.0 L1117.5 1180.0 L1121.2 1173.8 L1123.8 1156.2 L1126.2 1170.0 L1128.8 1171.2 L1130.0 1245.0 L1132.5 1237.5 L1135.0 1227.5 L1137.5 1226.2 L1140.0 1231.2 L1144.0 1231.2 L1145.5 1230.0 L1147.5 1216.2 L1149.5 1233.8 L1152.5 1245.0 L1154.5 1255.0 L1156.2 1246.2 L1160.0 1246.2 L1162.5 1255.0 L1163.8 1246.2 L1166.2 1246.2 L1168.0 1255.0 L1170.5 1265.0 L1172.0 1240.0 L1173.8 1255.0 L1177.5 1261.2 L1180.5 1236.2 L1182.5 1246.2 L1185.0 1241.2 L1187.5 1247.5 L1188.8 1261.2 L1191.2 1261.2 L1193.8 1255.0 L1196.2 1263.8 L1198.8 1261.2 L1202.5 1265.0 L1205.0 1276.2 L1207.0 1268.8 L1210.0 1265.0 L1212.5 1242.5 L1217.5 1231.2 L1220.0 1233.8 L1222.0 1240.0 L1225.0 1237.5 L1227.0 1242.5 L1228.8 1261.2 L1230.5 1235.0 L1236.2 1225.0 L1238.8 1255.0 L1242.5 1255.0 L1245.0 1245.0 L1251.2 1225.0 L1262.5 1235.0 L1266.2 1235.0 L1267.5 1225.0 L1270.0 1220.0 L1271.2 1230.0 L1275.0 1206.2 L1277.5 1201.2 L1280.0 1216.2 L1282.5 1210.0 L1283.8 1216.2 L1287.5 1195.0 L1291.2 1176.2 L1293.0 1185.0 L1296.2 1193.8 L1298.8 1201.2 L1300.0 1195.0 L1303.8 1216.2 L1306.2 1210.0 L1308.8 1225.0 L1311.2 1210.0 L1314.5 1216.2 L1316.2 1201.2 L1318.8 1216.2 L1321.2 1205.0 L1323.8 1200.0 L1326.2 1195.0 L1328.0 1202.5 L1331.2 1205.0 L1334.5 1191.2 L1338.8 1192.5 L1340.8 1270.0 L1343.0 1251.2 L1347.0 1255.0 L1348.8 1237.5 L1352.5 1230.0 L1356.2 1223.8 L1357.5 1216.2 L1360.0 1215.0 L1363.8 1215.0 L1366.2 1205.0 L1368.0 1165.0 L1369.5 1170.0 L1371.2 1171.2 L1373.8 1156.2 L1377.5 1163.8 L1379.5 1166.2 L1381.2 1175.0 L1383.8 1146.2 L1386.2 1128.8 L1388.0 1105.0 L1390.0 1127.5 L1392.0 1141.2 L1395.0 1135.0 L1396.2 1120.0 L1398.0 1125.0 L1400.0 1111.2 L1403.8 1100.0 L1405.5 1090.0 L1416.2 1096.2 L1417.5 1106.2 L1419.5 1120.0 L1420.5 1150.0 L1422.0 1135.0 L1422.5 1160.0 L1426.2 1163.8 L1428.8 1161.2 L1431.2 1166.2 L1432.5 1180.0 L1436.2 1191.2 L1437.5 1231.2 L1439.5 1195.0 L1441.2 1200.0 L1444.5 1205.0 L1448.0 1186.2 L1452.0 1213.8 L1455.5 1246.2 L1458.8 1226.2 L1461.2 1191.2 L1463.8 1210.0 L1466.2 1198.8 L1470.0 1206.2 L1472.5 1191.2 L1476.2 1195.0 L1480.0 1192.5 L1482.5 1195.0 L1486.2 1177.5 L1488.8 1175.0 L1491.2 1171.2 L1495.0 1172.5 L1496.2 1185.0 L1503.8 1171.2 L1506.2 1176.2 L1508.8 1165.0 L1511.2 1183.8 L1512.5 1205.0 L1516.2 1201.2 L1517.5 1181.2 L1519.5 1171.2 L1522.5 1175.0 L1527.5 1175.0 L1530.0 1180.0 L1533.8 1180.0 L1537.5 1171.2 L1540.0 1171.2 L1543.0 1190.0 L1545.0 1176.2 L1549.5 1172.5 L1551.2 1280.0 L1553.8 1290.0 L1556.2 1285.0 L1558.8 1295.0 L1561.2 1275.0 L1563.8 1270.0 L1566.2 1283.8 L1568.8 1270.0 L1572.5 1278.8 L1576.2 1270.0 L1580.0 1275.0 L1583.8 1261.2 L1590.0 1261.2 L1593.8 1246.2 L1597.5 1246.2 L1601.2 1260.0 L1605.0 1237.5 L1608.8 1231.2 L1612.5 1236.2 L1615.0 1260.0 L1618.0 1251.2 L1621.2 1251.2 L1623.8 1265.0 L1626.2 1267.5 L1628.8 1276.2 L1631.2 1266.2 L1637.5 1266.2 L1639.5 1261.2 L1641.2 1276.2 L1643.8 1276.2 L1648.0 1290.0 L1651.2 1272.5 L1655.0 1266.2 L1657.5 1270.0 L1662.5 1270.0 L1665.0 1261.2 L1667.5 1263.8 L1670.0 1255.0 L1672.5 1261.2 L1681.2 1266.2 L1685.0 1277.5 L1687.5 1283.8 L1693.8 1262.5 L1695.0 1255.0 L1698.8 1252.5 L1702.5 1246.2 L1705.5 1231.2 L1710.0 1242.5 L1712.5 1260.0 L1716.2 1263.8 L1718.8 1261.2 L1721.2 1270.0 L1723.8 1276.2 L1725.5 1276.2 L1727.5 1295.0 L1730.0 1291.2 L1732.5 1295.0 L1735.0 1281.2 L1738.8 1285.0 L1742.5 1285.0 L1744.5 1295.0 L1747.0 1280.0 L1750.0 1272.5 L1751.2 1266.2 L1753.8 1291.2 L1757.5 1293.8 L1760.0 1350.0 L1762.5 1345.0 L1765.0 1345.0 L1766.2 1355.0 L1768.8 1345.0 L1770.0 1355.0 L1773.8 1345.0 L1776.2 1358.8 L1778.8 1352.5 L1784.0 1367.5 L1785.5 1368.8 L1790.0 1375.0 L1792.0 1380.0 L1793.8 1375.0 L1799.5 1375.0 L1802.0 1366.2 L1806.2 1360.0 L1810.0 1340.0 L1822.0 1340.0 L1823.0 1336.2 L1824.5 1340.0 L1832.0 1340.0 L1833.8 1335.0 L1838.0 1330.0 L1840.5 1330.0 L1842.0 1336.2 L1846.2 1336.2 L1847.5 1321.2 L1849.5 1336.2 L1852.0 1330.0 L1853.8 1330.0 L1855.5 1335.0 L1858.8 1306.2 L1862.0 1320.0 L1866.2 1311.2 L1872.5 1311.2 L1878.8 1320.0 L1881.2 1300.0 L1883.8 1298.8 L1889.5 1290.0 L1892.5 1288.8 L1896.2 1280.0 L1899.5 1281.2 L1903.0 1285.0 L1905.0 1292.5 L1906.2 1305.0 L1908.0 1295.0 L1911.2 1291.2 L1912.0 1255.0 L1913.8 1260.0 L1915.0 1250.0 L1922.5 1250.0 L1923.8 1270.0 L1927.5 1270.0 L1931.2 1295.0 L1935.0 1281.2 L1938.8 1281.2 L1940.0 1280.0 L1943.8 1280.0 L1945.0 1285.0 L1947.5 1283.8 L1951.2 1276.2 L1955.0 1285.0 L1959.5 1290.0 L1963.0 1276.2 L1967.5 1288.8 L1968.8 1358.8 L1971.2 1366.2 L1975.0 1370.0 L1978.0 1365.0 L1987.0 1365.0 L1988.8 1371.2 L1993.8 1376.2 L1995.0 1380.0 L1997.0 1370.0 L1999.5 1380.0 L2002.0 1370.0 L2005.0 1368.8 L2008.8 1365.0 L2010.0 1370.0 L2013.8 1370.0 L2016.2 1366.2 L2018.8 1370.0 L2021.2 1366.2 L2023.8 1365.0 L2031.2 1365.0 L2033.8 1355.0 L2037.5 1356.2 L2040.0 1360.0 L2042.5 1355.0 L2045.0 1360.0 L2050.0 1355.0 L2052.5 1360.0 L2063.8 1360.0 L2065.0 1355.0 L2068.8 1351.2 L2072.5 1355.0 L2074.5 1360.0 L2080.0 1360.0 L2081.2 1351.2 L2083.8 1360.0 L2085.5 1350.0 L2088.0 1345.0 L2090.5 1355.0 L2093.8 1355.0 L2105.0 1351.2 L2106.2 1340.0 L2107.5 1353.8 L2113.8 1360.0 L2116.2 1356.2 L2120.0 1352.5 L2123.0 1345.0 L2125.0 1355.0 L2127.5 1351.2 L2130.0 1351.2 L2132.0 1360.0 L2133.8 1351.2 L2137.0 1351.2 L2138.8 1360.0 L2142.5 1355.0 L2145.0 1360.0 L2153.8 1360.0 L2155.0 1355.0 L2173.8 1355.0 L2176.2 1356.2 L2177.5 1375.0 L2195.0 1375.0 L2197.5 1370.0 L2202.5 1375.0 L2211.2 1375.0 L2213.8 1370.0 L2217.5 1375.0 L2218.8 1380.5 L2233.8 1375.0 L2235.0 1380.5 L2250.0 1380.5 L2251.2 1384.5 L2252.5 1380.5 L2330.0 1380.5 L2332.5 1366.2 L2335.0 1373.8 L2340.0 1361.2 L2343.8 1361.2 L2348.0 1355.0 L2350.0 1370.0 L2357.5 1370.0 L2358.8 1360.0 L2363.8 1370.0 L2367.5 1370.0 L2370.0 1365.5 L2386.2 1365.5 L2387.5 1380.5 L2390.0 1370.0 L2392.0 1380.5 L2395.0 1380.5 L2397.5 1374.5 L2406.2 1374.5 L2410.0 1380.5 L2424.0 1380.5 L2424.1 1380.3 L2459.0 1380.3 L2460.9 1374.4 L2467.6 1374.4 L2469.9 1365.0 L2476.2 1365.0 L2477.4 1374.4 L2479.0 1370.0 L2487.1 1370.0 L2491.0 1365.0 L2526.1 1365.0 L2527.7 1370.0 L2532.4 1370.0 L2533.6 1359.2 L2536.3 1359.2 L2538.9 1365.0 L2540.2 1359.2 L2542.5 1370.0 L2544.1 1359.2 L2548.0 1365.8 L2550.8 1359.2 L2555.0 1365.0 L2564.4 1365.0 L2565.9 1370.0 L2571.4 1370.0 L2572.6 1365.0 L2574.5 1370.0 L2579.2 1370.0 L2583.1 1359.2 L2593.2 1359.2 L2596.0 1361.1 L2597.1 1380.3 L2599.5 1374.4 L2601.8 1377.5 L2604.9 1374.4 L2606.5 1380.3 L2638.2 1380.3 L2640.0 1370.0 L2644.7 1370.0 L2646.0 1359.2 L2649.1 1370.0 L2652.5 1370.0 L2655.6 1340.0 L2658.0 1337.7 L2661.1 1305.7 L2663.4 1310.4 L2676.7 1315.0 L2679.8 1329.9 L2683.7 1336.1 L2686.9 1350.2 L2688.1 1339.2 L2690.0 1344.7 L2693.9 1344.7 L2696.2 1339.2 L2700.9 1329.1 L2702.1 1344.7 L2704.8 1354.8 L2707.9 1350.2 L2711.8 1354.8 L2713.4 1340.0 L2716.5 1340.0 L2718.8 1312.7 L2720.4 1310.4 L2723.5 1315.0 L2725.1 1310.4 L2732.1 1310.4 L2733.4 1299.4 L2736.8 1299.4 L2738.4 1297.9 L2740.7 1294.8 L2742.3 1299.4 L2748.5 1299.4 L2750.1 1305.7 L2757.9 1305.7 L2764.9 1310.4 L2775.8 1310.4 L2778.1 1316.6 L2780.5 1321.3 L2782.0 1315.0 L2785.9 1315.0 L2789.1 1310.4 L2790.6 1315.0 L2792.2 1310.4 L2800.8 1310.4 L2802.0 1294.0" fill="none" stroke="#2ca02c" stroke-width="3.75" stroke-linejoin="round" stroke-linecap="square"/><path d="M518.0 515.0 L520.0 532.5 L521.2 501.2 L525.0 487.5 L527.0 486.2 L528.8 457.5 L530.5 457.5 L532.5 472.5 L534.2 442.5 L536.2 457.5 L542.5 457.5 L543.8 486.2 L545.5 457.5 L548.8 472.5 L550.0 502.5 L551.2 472.5 L553.8 517.5 L565.0 517.5 L566.2 472.5 L568.0 487.5 L569.5 472.5 L572.5 487.5 L576.2 487.5 L578.0 502.5 L580.5 472.5 L582.5 487.5 L585.0 457.5 L586.2 487.5 L590.0 517.5 L592.0 487.5 L593.8 502.5 L597.5 457.5 L600.0 517.5 L602.0 502.5 L610.0 502.5 L612.5 517.5 L614.5 532.5 L616.2 517.5 L618.0 502.5 L621.2 502.5 L623.8 532.5 L630.0 457.5 L632.5 532.5 L635.0 502.5 L637.5 517.5 L639.2 547.5 L641.2 547.5 L643.8 525.0 L646.2 517.5 L648.0 532.5 L650.0 532.5 L651.2 517.5 L653.8 517.5 L655.0 547.5 L662.5 532.5 L663.0 457.5 L665.0 502.5 L668.8 547.5 L670.8 532.5 L672.5 547.5 L674.5 547.5 L678.0 592.5 L680.0 562.5 L682.5 502.5 L686.2 502.5 L687.5 517.5 L689.5 502.5 L691.2 547.5 L695.0 532.5 L696.2 472.5 L698.8 487.5 L702.5 502.5 L703.8 517.5 L705.5 517.5 L707.0 547.5 L711.2 527.5 L711.2 412.5 L713.8 442.5 L715.0 427.5 L717.5 472.5 L719.5 442.5 L721.2 472.5 L723.2 457.5 L724.5 472.5 L727.5 442.5 L730.0 472.5 L731.2 457.5 L733.8 472.5 L735.5 487.5 L737.5 472.5 L738.8 487.5 L741.2 487.5 L743.8 472.5 L746.2 502.5 L750.0 472.5 L752.0 442.5 L754.5 487.5 L760.0 487.5 L762.0 472.5 L763.8 487.5 L766.2 487.5 L768.8 517.5 L775.0 517.5 L778.0 487.5 L780.0 487.5 L783.8 502.5 L786.2 472.5 L791.2 472.5 L793.0 502.5 L798.8 472.5 L800.0 517.5 L802.5 517.5 L803.8 502.5 L806.2 517.5 L810.0 517.5 L810.5 502.5 L820.0 502.5 L823.0 532.5 L825.0 502.5 L827.0 517.5 L840.0 517.5 L842.0 502.5 L846.2 502.5 L848.0 487.5 L850.0 502.5 L852.5 487.5 L855.0 487.5 L857.5 502.5 L860.0 487.5 L862.5 487.5 L864.5 502.5 L866.2 487.5 L868.8 502.5 L871.2 487.5 L873.0 472.5 L875.0 502.5 L876.8 472.5 L880.0 517.5 L881.2 547.5 L883.0 577.5 L885.0 562.5 L888.8 577.5 L890.0 547.5 L893.8 562.5 L897.5 517.5 L900.0 547.5 L901.2 532.5 L908.8 532.5 L912.5 517.5 L915.0 487.5 L917.0 502.5 L920.0 460.0 L921.2 382.5 L923.8 412.5 L928.8 412.5 L931.2 382.5 L933.8 397.5 L936.2 397.5 L939.2 412.5 L940.5 382.5 L942.5 412.5 L944.5 397.5 L946.2 412.5 L947.5 397.5 L950.0 412.5 L953.8 427.5 L955.5 457.5 L960.0 412.5 L963.0 487.5 L976.2 472.5 L977.5 502.5 L979.5 532.5 L981.2 517.5 L983.0 532.5 L985.0 562.5 L987.0 532.5 L990.0 532.5 L992.0 517.5 L994.5 562.5 L997.5 532.5 L1000.0 547.5 L1002.5 502.5 L1004.5 547.5 L1007.5 502.5 L1010.0 487.5 L1012.0 457.5 L1015.0 487.5 L1018.8 472.5 L1020.5 487.5 L1023.0 502.5 L1025.0 517.5 L1027.0 502.5 L1030.0 532.5 L1032.5 532.5 L1035.0 472.5 L1037.5 517.5 L1040.5 502.5 L1043.8 502.5 L1045.0 532.5 L1052.5 532.5 L1053.8 517.5 L1056.2 532.5 L1057.5 487.5 L1058.8 517.5 L1066.2 517.5 L1068.8 547.5 L1070.0 532.5 L1072.5 532.5 L1075.0 562.5 L1083.8 547.5 L1085.0 562.5 L1090.0 562.5 L1092.0 592.5 L1094.5 577.5 L1097.5 577.5 L1100.0 607.5 L1102.5 592.5 L1105.0 607.5 L1106.2 577.5 L1108.8 592.5 L1111.2 592.5 L1113.8 622.5 L1116.2 577.5 L1122.5 532.5 L1125.0 562.5 L1127.0 547.5 L1128.8 562.5 L1132.0 502.5 L1135.0 532.5 L1137.5 547.5 L1138.8 532.5 L1140.0 562.5 L1144.0 577.5 L1146.2 592.5 L1149.5 592.5 L1150.5 576.8 L1153.0 576.8 L1154.5 532.5 L1156.2 562.5 L1157.5 547.5 L1158.8 592.5 L1161.2 592.5 L1163.0 622.5 L1164.5 622.5 L1166.2 562.5 L1170.0 562.5 L1172.0 607.5 L1177.5 562.5 L1181.2 592.5 L1186.2 607.5 L1187.5 592.5 L1188.8 607.5 L1191.2 607.5 L1193.8 592.5 L1195.0 607.5 L1197.5 562.5 L1200.0 577.5 L1202.5 562.5 L1204.5 577.5 L1206.2 562.5 L1208.0 577.5 L1210.0 547.5 L1212.0 592.5 L1213.8 562.5 L1215.0 592.5 L1218.0 592.5 L1219.5 577.5 L1221.2 592.5 L1222.5 622.5 L1226.2 622.5 L1229.2 487.5 L1233.0 592.5 L1235.5 562.5 L1238.0 622.5 L1240.0 607.5 L1242.0 622.5 L1243.8 607.5 L1246.2 622.5 L1251.2 607.5 L1253.0 576.8 L1262.5 576.8 L1266.2 592.5 L1268.0 562.5 L1269.5 592.5 L1272.0 576.8 L1279.5 576.8 L1282.5 547.5 L1285.0 592.5 L1287.5 577.5 L1289.5 592.5 L1293.0 562.5 L1295.0 592.5 L1300.0 576.8 L1302.5 562.5 L1305.0 576.8 L1308.8 562.5 L1311.2 576.8 L1315.0 607.5 L1318.0 622.5 L1320.0 607.5 L1323.8 592.5 L1325.0 622.5 L1330.5 622.5 L1333.0 636.8 L1336.2 636.8 L1340.0 622.5 L1341.2 607.5 L1347.5 607.5 L1349.5 636.8 L1351.2 622.5 L1355.0 622.5 L1357.0 636.8 L1359.5 607.5 L1363.8 607.5 L1365.0 592.5 L1367.5 592.5 L1368.8 607.5 L1370.0 592.5 L1372.5 592.5 L1373.8 562.5 L1376.2 576.8 L1380.0 576.8 L1382.5 622.5 L1386.2 577.5 L1388.8 607.5 L1391.2 607.5 L1394.5 576.8 L1397.0 607.5 L1400.0 576.8 L1404.5 576.8 L1406.2 592.5 L1415.0 577.5 L1416.2 592.5 L1420.0 577.5 L1422.5 592.5 L1426.2 607.5 L1430.0 592.5 L1435.5 622.5 L1438.0 577.5 L1440.0 592.5 L1443.8 592.5 L1445.5 547.5 L1452.5 547.5 L1453.8 532.5 L1455.5 547.5 L1460.0 592.5 L1463.8 607.5 L1468.8 562.5 L1471.2 576.8 L1478.8 576.8 L1480.5 562.5 L1485.0 607.5 L1487.5 607.5 L1491.2 577.5 L1493.8 592.5 L1495.0 562.5 L1502.5 562.5 L1505.0 577.5 L1508.8 562.5 L1510.5 547.5 L1512.5 577.5 L1513.8 562.5 L1521.2 562.5 L1523.8 577.5 L1526.2 562.5 L1527.5 577.5 L1532.5 577.5 L1534.5 607.5 L1536.2 607.5 L1538.8 636.8 L1541.2 622.5 L1543.0 636.8 L1550.0 592.5 L1551.2 576.8 L1557.5 576.8 L1560.0 592.5 L1565.0 577.5 L1568.8 607.5 L1573.8 607.5 L1576.2 622.5 L1578.8 592.5 L1580.5 622.5 L1583.8 637.5 L1585.5 607.5 L1588.8 622.5 L1592.5 607.5 L1595.5 652.5 L1598.8 667.5 L1601.2 622.5 L1605.5 607.5 L1607.5 622.5 L1610.0 622.5 L1613.8 652.5 L1617.5 667.5 L1622.5 622.5 L1626.2 652.5 L1630.0 636.8 L1632.0 682.5 L1633.8 652.5 L1638.8 682.5 L1641.2 636.8 L1646.2 682.5 L1648.8 652.5 L1653.8 682.5 L1657.5 682.5 L1663.0 697.5 L1665.5 682.5 L1668.8 682.5 L1671.2 651.8 L1673.8 667.5 L1682.5 667.5 L1685.0 652.5 L1687.5 667.5 L1689.5 652.5 L1693.0 651.8 L1694.5 607.5 L1697.0 636.8 L1703.8 636.8 L1705.0 607.5 L1709.5 607.5 L1713.0 667.5 L1717.5 622.5 L1720.5 651.8 L1727.5 651.8 L1729.5 667.5 L1735.0 667.5 L1736.2 697.5 L1740.0 712.5 L1743.0 741.2 L1744.5 726.8 L1750.0 726.8 L1752.0 682.5 L1755.0 697.5 L1758.8 726.8 L1760.5 712.5 L1763.8 726.8 L1765.0 712.5 L1767.5 726.8 L1769.5 771.2 L1773.8 757.5 L1776.2 771.2 L1778.8 757.5 L1784.0 772.5 L1786.2 757.5 L1788.0 772.5 L1791.2 772.5 L1794.5 741.8 L1797.0 771.8 L1798.8 786.8 L1802.5 726.8 L1806.2 726.8 L1809.5 681.8 L1822.5 696.8 L1823.8 666.8 L1825.5 681.8 L1827.5 666.8 L1830.8 651.8 L1832.5 666.8 L1835.0 681.8 L1838.8 666.8 L1840.0 681.8 L1843.8 681.8 L1847.5 711.8 L1850.0 696.8 L1852.5 711.8 L1856.2 696.8 L1858.0 711.8 L1865.0 711.8 L1866.2 681.8 L1873.8 681.8 L1875.0 696.8 L1878.8 651.8 L1881.2 636.8 L1883.8 651.8 L1887.5 621.8 L1890.5 606.8 L1892.5 606.8 L1895.0 621.8 L1896.2 591.8 L1898.0 606.8 L1911.2 606.8 L1912.5 591.8 L1915.0 651.8 L1920.0 636.8 L1922.5 636.8 L1926.2 651.8 L1928.8 666.8 L1930.0 636.8 L1938.8 636.8 L1940.0 651.8 L1942.5 636.8 L1945.0 651.8 L1946.2 636.8 L1953.8 636.8 L1955.0 651.8 L1960.0 711.8 L1965.0 651.8 L1967.0 621.8 L1968.8 666.8 L1971.2 651.8 L1975.0 681.8 L1977.5 666.8 L1980.0 666.8 L1982.5 681.8 L1985.5 711.8 L1987.5 651.8 L1992.0 651.8 L1993.8 681.8 L1995.5 696.8 L1998.8 696.8 L2002.5 756.8 L2008.8 756.8 L2011.2 771.8 L2017.5 771.8 L2018.8 786.8 L2022.5 771.8 L2027.5 786.8 L2031.2 756.8 L2033.8 771.8 L2036.2 771.8 L2040.0 741.8 L2042.0 756.8 L2047.5 756.8 L2050.0 741.8 L2051.2 756.8 L2058.8 711.8 L2061.2 726.8 L2065.0 756.8 L2068.8 696.8 L2071.2 711.8 L2073.8 696.8 L2077.5 696.8 L2080.0 711.8 L2082.5 681.8 L2085.0 681.8 L2088.0 666.8 L2090.0 711.8 L2103.8 711.8 L2106.2 681.8 L2108.8 681.8 L2111.2 711.8 L2116.2 681.8 L2118.8 711.8 L2121.2 681.8 L2124.5 741.8 L2128.8 696.8 L2131.2 726.8 L2135.0 726.8 L2138.8 756.8 L2141.2 741.8 L2145.0 711.8 L2147.5 726.8 L2150.0 711.8 L2152.5 696.8 L2153.8 726.8 L2156.2 696.8 L2158.8 696.8 L2160.5 651.8 L2162.5 696.8 L2164.2 666.8 L2166.2 696.8 L2168.8 711.8 L2172.5 666.8 L2174.5 666.8 L2176.2 596.2 L2178.0 711.8 L2180.0 681.8 L2185.0 681.8 L2187.0 666.8 L2188.8 681.8 L2191.2 666.8 L2193.0 681.8 L2195.0 666.8 L2198.8 681.8 L2201.2 681.8 L2202.5 696.8 L2205.0 651.8 L2208.8 666.8 L2210.0 696.8 L2212.5 681.8 L2221.2 681.8 L2233.8 696.8 L2235.0 681.8 L2236.2 711.8 L2237.5 726.8 L2241.2 741.8 L2244.5 741.8 L2247.0 771.8 L2249.5 771.8 L2252.0 801.8 L2254.5 771.8 L2258.8 741.8 L2262.0 696.8 L2265.0 711.8 L2267.5 711.8 L2269.5 726.8 L2273.8 741.8 L2276.2 711.8 L2278.0 741.8 L2281.2 756.8 L2283.8 711.8 L2286.2 711.8 L2289.5 681.8 L2291.2 711.8 L2293.8 726.8 L2296.2 711.8 L2298.8 741.8 L2301.2 711.8 L2303.8 711.8 L2305.5 726.8 L2308.8 696.8 L2313.8 681.8 L2316.2 741.8 L2321.2 711.8 L2323.8 666.8 L2326.2 651.8 L2330.0 621.8 L2332.5 666.8 L2335.5 651.8 L2338.8 636.8 L2342.5 621.8 L2345.5 606.8 L2347.5 591.8 L2349.5 606.8 L2356.2 606.8 L2360.0 621.8 L2365.0 666.8 L2368.8 651.8 L2371.2 621.8 L2374.5 636.8 L2376.2 621.8 L2378.8 636.8 L2381.2 621.8 L2383.8 636.8 L2386.2 610.0 L2388.0 651.8 L2390.0 621.8 L2392.5 636.8 L2396.2 666.8 L2402.5 636.8 L2405.0 651.8 L2411.2 666.8 L2415.0 681.8 L2417.5 666.8 L2420.0 681.8 L2424.0 666.8 L2424.1 666.9 L2430.9 666.9 L2434.0 651.9 L2435.6 636.9 L2448.1 636.9 L2451.2 651.9 L2452.8 636.9 L2455.0 651.9 L2457.5 636.9 L2469.9 636.9 L2471.5 651.9 L2473.7 636.9 L2476.2 651.9 L2477.7 621.6 L2499.6 621.6 L2501.8 591.7 L2504.3 591.7 L2507.4 621.6 L2509.9 591.7 L2511.1 621.6 L2526.1 606.7 L2527.7 591.7 L2530.8 591.7 L2532.4 606.7 L2534.9 591.7 L2537.0 606.7 L2540.2 591.7 L2543.3 606.7 L2546.4 606.7 L2549.5 651.9 L2551.7 606.7 L2555.8 651.9 L2558.9 666.9 L2560.4 636.9 L2564.2 651.9 L2566.1 651.9 L2568.3 621.6 L2571.4 681.9 L2576.1 636.9 L2580.7 636.9 L2582.3 651.9 L2585.4 651.9 L2590.1 666.9 L2591.7 666.9 L2596.3 706.9 L2597.3 771.8 L2599.5 756.8 L2604.1 741.8 L2605.7 711.8 L2607.9 741.8 L2611.9 711.8 L2614.1 666.9 L2617.3 696.9 L2621.3 711.8 L2622.9 726.8 L2625.4 711.8 L2628.5 726.8 L2632.2 681.9 L2633.8 696.9 L2640.0 696.9 L2644.1 651.9 L2645.3 606.7 L2647.8 621.6 L2651.0 606.7 L2654.1 561.7 L2655.6 486.8 L2660.9 441.9 L2665.0 486.8 L2675.9 486.8 L2679.1 516.8 L2682.2 531.8 L2685.3 531.8 L2686.9 606.7 L2688.4 546.7 L2691.5 591.7 L2694.0 546.7 L2697.2 546.7 L2700.3 531.8 L2704.0 606.7 L2707.1 591.7 L2709.6 606.7 L2711.8 591.7 L2714.9 591.7 L2719.6 471.8 L2722.7 501.8 L2725.2 471.8 L2727.4 516.8 L2732.1 531.8 L2733.7 471.8 L2736.8 531.8 L2741.5 471.8 L2744.6 456.9 L2754.0 456.9 L2757.1 501.8 L2760.2 486.8 L2765.8 516.8 L2768.0 486.8 L2771.1 501.8 L2774.2 486.8 L2775.8 501.8 L2782.0 501.8 L2785.2 501.8 L2789.9 471.8 L2793.0 471.8 L2794.5 501.8 L2801.4 501.8 L2802.3 486.8" fill="none" stroke="#d62728" stroke-width="3.75" stroke-linejoin="round" stroke-linecap="square"/><rect x="405.0" y="194.0" width="2511.0" height="1248.0" fill="none" stroke="#000" stroke-width="2"/><g stroke="#000" stroke-width="2"><line x1="517.9" y1="1442.0" x2="517.9" y2="1450.8"/><line x1="938.0" y1="1442.0" x2="938.0" y2="1450.8"/><line x1="1359.3" y1="1442.0" x2="1359.3" y2="1450.8"/><line x1="1779.4" y1="1442.0" x2="1779.4" y2="1450.8"/><line x1="2199.5" y1="1442.0" x2="2199.5" y2="1450.8"/><line x1="2619.6" y1="1442.0" x2="2619.6" y2="1450.8"/><line x1="396.2" y1="1385.0" x2="405.0" y2="1385.0"/><line x1="396.2" y1="1235.4" x2="405.0" y2="1235.4"/><line x1="396.2" y1="1085.9" x2="405.0" y2="1085.9"/><line x1="396.2" y1="936.3" x2="405.0" y2="936.3"/><line x1="396.2" y1="786.7" x2="405.0" y2="786.7"/><line x1="396.2" y1="637.1" x2="405.0" y2="637.1"/><line x1="396.2" y1="487.6" x2="405.0" y2="487.6"/><line x1="396.2" y1="338.0" x2="405.0" y2="338.0"/></g><g font-family="Liberation Sans" fill="#000"><text transform="translate(499.15,1476.20) scale(0.9,1)" font-size="25" text-anchor="middle">2</text><text transform="translate(511.65,1476.20) scale(0.9,1)" font-size="25" text-anchor="middle">0</text><text transform="translate(524.15,1476.20) scale(0.9,1)" font-size="25" text-anchor="middle">1</text><text transform="translate(536.65,1476.20) scale(0.9,1)" font-size="25" text-anchor="middle">9</text><text transform="translate(919.26,1476.20) scale(0.9,1)" font-size="25" text-anchor="middle">2</text><text transform="translate(931.76,1476.20) scale(0.9,1)" font-size="25" text-anchor="middle">0</text><text transform="translate(944.26,1476.20) scale(0.9,1)" font-size="25" text-anchor="middle">2</text><text transform="translate(956.76,1476.20) scale(0.9,1)" font-size="25" text-anchor="middle">0</text><text transform="translate(1340.53,1476.20) scale(0.9,1)" font-size="25" text-anchor="middle">2</text><text transform="translate(1353.03,1476.20) scale(0.9,1)" font-size="25" text-anchor="middle">0</text><text transform="translate(1365.53,1476.20) scale(0.9,1)" font-size="25" text-anchor="middle">2</text><text transform="translate(1378.03,1476.20) scale(0.9,1)" font-size="25" text-anchor="middle">1</text><text transform="translate(1760.65,1476.20) scale(0.9,1)" font-size="25" text-anchor="middle">2</text><text transform="translate(1773.15,1476.20) scale(0.9,1)" font-size="25" text-anchor="middle">0</text><text transform="translate(1785.65,1476.20) scale(0.9,1)" font-size="25" text-anchor="middle">2</text><text transform="translate(1798.15,1476.20) scale(0.9,1)" font-size="25" text-anchor="middle">2</text><text transform="translate(2180.76,1476.20) scale(0.9,1)" font-size="25" text-anchor="middle">2</text><text transform="translate(2193.26,1476.20) scale(0.9,1)" font-size="25" text-anchor="middle">0</text><text transform="translate(2205.76,1476.20) scale(0.9,1)" font-size="25" text-anchor="middle">2</text><text transform="translate(2218.26,1476.20) scale(0.9,1)" font-size="25" text-anchor="middle">3</text><text transform="translate(2600.88,1476.20) scale(0.9,1)" font-size="25" text-anchor="middle">2</text><text transform="translate(2613.38,1476.20) scale(0.9,1)" font-size="25" text-anchor="middle">0</text><text transform="translate(2625.88,1476.20) scale(0.9,1)" font-size="25" text-anchor="middle">2</text><text transform="translate(2638.38,1476.20) scale(0.9,1)" font-size="25" text-anchor="middle">4</text><text transform="translate(356.25,1393.60) scale(0.9,1)" font-size="25" text-anchor="middle">0</text><text transform="translate(365.62,1393.60) scale(0.9,1)" font-size="25" text-anchor="middle">.</text><text transform="translate(381.25,1393.60) scale(0.9,1)" font-size="25" text-anchor="middle">0</text><text transform="translate(356.25,1244.03) scale(0.9,1)" font-size="25" text-anchor="middle">0</text><text transform="translate(365.62,1244.03) scale(0.9,1)" font-size="25" text-anchor="middle">.</text><text transform="translate(381.25,1244.03) scale(0.9,1)" font-size="25" text-anchor="middle">1</text><text transform="translate(356.25,1094.46) scale(0.9,1)" font-size="25" text-anchor="middle">0</text><text transform="translate(365.62,1094.46) scale(0.9,1)" font-size="25" text-anchor="middle">.</text><text transform="translate(381.25,1094.46) scale(0.9,1)" font-size="25" text-anchor="middle">2</text><text transform="translate(356.25,944.89) scale(0.9,1)" font-size="25" text-anchor="middle">0</text><text transform="translate(365.62,944.89) scale(0.9,1)" font-size="25" text-anchor="middle">.</text><text transform="translate(381.25,944.89) scale(0.9,1)" font-size="25" text-anchor="middle">3</text><text transform="translate(356.25,795.32) scale(0.9,1)" font-size="25" text-anchor="middle">0</text><text transform="translate(365.62,795.32) scale(0.9,1)" font-size="25" text-anchor="middle">.</text><text transform="translate(381.25,795.32) scale(0.9,1)" font-size="25" text-anchor="middle">4</text><text transform="translate(356.25,645.75) scale(0.9,1)" font-size="25" text-anchor="middle">0</text><text transform="translate(365.62,645.75) scale(0.9,1)" font-size="25" text-anchor="middle">.</text><text transform="translate(381.25,645.75) scale(0.9,1)" font-size="25" text-anchor="middle">5</text><text transform="translate(356.25,496.18) scale(0.9,1)" font-size="25" text-anchor="middle">0</text><text transform="translate(365.62,496.18) scale(0.9,1)" font-size="25" text-anchor="middle">.</text><text transform="translate(381.25,496.18) scale(0.9,1)" font-size="25" text-anchor="middle">6</text><text transform="translate(356.25,346.61) scale(0.9,1)" font-size="25" text-anchor="middle">0</text><text transform="translate(365.62,346.61) scale(0.9,1)" font-size="25" text-anchor="middle">.</text><text transform="translate(381.25,346.61) scale(0.9,1)" font-size="25" text-anchor="middle">7</text><text x="1134.75" y="177.40" font-size="34.50" text-anchor="middle">r</text><text x="1153.50" y="177.40" font-size="34.50" text-anchor="middle">i</text><text x="1172.25" y="177.40" font-size="34.50" text-anchor="middle">s</text><text x="1191.00" y="177.40" font-size="34.50" text-anchor="middle">k</text><text x="1209.75" y="177.40" font-size="34.50" text-anchor="middle">y</text><text x="1247.25" y="177.40" font-size="34.50" text-anchor="middle">i</text><text x="1266.00" y="177.40" font-size="34.50" text-anchor="middle">n</text><text x="1284.75" y="177.40" font-size="34.50" text-anchor="middle">d</text><text x="1303.50" y="177.40" font-size="34.50" text-anchor="middle">e</text><text x="1322.25" y="177.40" font-size="34.50" text-anchor="middle">x</text><text x="1359.75" y="177.40" font-size="34.50" text-anchor="middle">r</text><text x="1378.50" y="177.40" font-size="34.50" text-anchor="middle">a</text><text x="1397.25" y="177.40" font-size="34.50" text-anchor="middle">t</text><text x="1416.00" y="177.40" font-size="34.50" text-anchor="middle">i</text><text x="1434.75" y="177.40" font-size="34.50" text-anchor="middle">o</text><text transform="translate(1449.38,177.40) scale(0.9,1)" font-size="37.5" text-anchor="middle">,</text><text x="1491.00" y="177.40" font-size="34.50" text-anchor="middle">p</text><text x="1509.75" y="177.40" font-size="34.50" text-anchor="middle">c</text><text x="1528.50" y="177.40" font-size="34.50" text-anchor="middle">t</text><text x="1566.00" y="177.40" font-size="34.50" text-anchor="middle">w</text><text x="1584.75" y="177.40" font-size="34.50" text-anchor="middle">i</text><text x="1603.50" y="177.40" font-size="34.50" text-anchor="middle">t</text><text x="1622.25" y="177.40" font-size="34.50" text-anchor="middle">h</text><text x="1641.00" y="177.40" font-size="34.50" text-anchor="middle">i</text><text x="1659.75" y="177.40" font-size="34.50" text-anchor="middle">n</text><text x="1697.25" y="177.40" font-size="34.50" text-anchor="middle">i</text><text x="1716.00" y="177.40" font-size="34.50" text-anchor="middle">n</text><text x="1734.75" y="177.40" font-size="34.50" text-anchor="middle">d</text><text x="1753.50" y="177.40" font-size="34.50" text-anchor="middle">e</text><text x="1772.25" y="177.40" font-size="34.50" text-anchor="middle">x</text><text transform="translate(1791.00,177.40) scale(0.9,1)" font-size="37.5" text-anchor="middle">:</text><text transform="translate(1828.50,177.40) scale(0.9,1)" font-size="37.5" text-anchor="middle">(</text><text transform="translate(1847.25,177.40) scale(0.9,1)" font-size="37.5" text-anchor="middle">2</text><text transform="translate(1866.00,177.40) scale(0.9,1)" font-size="37.5" text-anchor="middle">0</text><text transform="translate(1884.75,177.40) scale(0.9,1)" font-size="37.5" text-anchor="middle">1</text><text transform="translate(1903.50,177.40) scale(0.9,1)" font-size="37.5" text-anchor="middle">9</text><text transform="translate(1922.25,177.40) scale(0.9,1)" font-size="37.5" text-anchor="middle">0</text><text transform="translate(1941.00,177.40) scale(0.9,1)" font-size="37.5" text-anchor="middle">1</text><text transform="translate(1959.75,177.40) scale(0.9,1)" font-size="37.5" text-anchor="middle">0</text><text transform="translate(1978.50,177.40) scale(0.9,1)" font-size="37.5" text-anchor="middle">2</text><text transform="translate(1993.12,177.40) scale(0.9,1)" font-size="37.5" text-anchor="middle">,</text><text transform="translate(2034.75,177.40) scale(0.9,1)" font-size="37.5" text-anchor="middle">2</text><text transform="translate(2053.50,177.40) scale(0.9,1)" font-size="37.5" text-anchor="middle">0</text><text transform="translate(2072.25,177.40) scale(0.9,1)" font-size="37.5" text-anchor="middle">2</text><text transform="translate(2091.00,177.40) scale(0.9,1)" font-size="37.5" text-anchor="middle">4</text><text transform="translate(2109.75,177.40) scale(0.9,1)" font-size="37.5" text-anchor="middle">0</text><text transform="translate(2128.50,177.40) scale(0.9,1)" font-size="37.5" text-anchor="middle">6</text><text transform="translate(2147.25,177.40) scale(0.9,1)" font-size="37.5" text-anchor="middle">0</text><text transform="translate(2166.00,177.40) scale(0.9,1)" font-size="37.5" text-anchor="middle">7</text><text transform="translate(2184.75,177.40) scale(0.9,1)" font-size="37.5" text-anchor="middle">)</text></g><g font-family="Liberation Sans" fill="#000"><rect x="424.5" y="1207.5" width="472.1" height="215.8" rx="7" ry="7" fill="#fff" fill-opacity="0.8" stroke="#cccccc" stroke-opacity="0.8" stroke-width="2.5"/><line x1="437.1" y1="1236.9" x2="515.7" y2="1236.9" stroke="#1f77b4" stroke-width="3.75"/><text x="553.20" y="1248.50" font-size="33.86" text-anchor="middle">r</text><text x="571.95" y="1248.50" font-size="33.86" text-anchor="middle">a</text><text x="590.70" y="1248.50" font-size="33.86" text-anchor="middle">t</text><text x="609.45" y="1248.50" font-size="33.86" text-anchor="middle">i</text><text x="628.20" y="1248.50" font-size="33.86" text-anchor="middle">o</text><text transform="translate(646.95,1248.50) scale(0.9,1)" font-size="36.8" text-anchor="middle">_</text><text x="665.70" y="1248.50" font-size="33.86" text-anchor="middle">z</text><text x="684.45" y="1248.50" font-size="33.86" text-anchor="middle">z</text><text transform="translate(703.20,1248.50) scale(0.9,1)" font-size="36.8" text-anchor="middle">1</text><text transform="translate(721.95,1248.50) scale(0.9,1)" font-size="36.8" text-anchor="middle">0</text><text transform="translate(740.70,1248.50) scale(0.9,1)" font-size="36.8" text-anchor="middle">0</text><text transform="translate(759.45,1248.50) scale(0.9,1)" font-size="36.8" text-anchor="middle">0</text><text transform="translate(778.20,1248.50) scale(0.9,1)" font-size="36.8" text-anchor="middle">:</text><text transform="translate(815.70,1248.50) scale(0.9,1)" font-size="36.8" text-anchor="middle">0</text><text transform="translate(829.76,1248.50) scale(0.9,1)" font-size="36.8" text-anchor="middle">.</text><text transform="translate(853.20,1248.50) scale(0.9,1)" font-size="36.8" text-anchor="middle">3</text><text transform="translate(871.95,1248.50) scale(0.9,1)" font-size="36.8" text-anchor="middle">7</text><line x1="437.1" y1="1287.9" x2="515.7" y2="1287.9" stroke="#ff7f0e" stroke-width="3.75"/><text x="553.20" y="1299.50" font-size="33.86" text-anchor="middle">r</text><text x="571.95" y="1299.50" font-size="33.86" text-anchor="middle">a</text><text x="590.70" y="1299.50" font-size="33.86" text-anchor="middle">t</text><text x="609.45" y="1299.50" font-size="33.86" text-anchor="middle">i</text><text x="628.20" y="1299.50" font-size="33.86" text-anchor="middle">o</text><text transform="translate(646.95,1299.50) scale(0.9,1)" font-size="36.8" text-anchor="middle">_</text><text x="665.70" y="1299.50" font-size="33.86" text-anchor="middle">z</text><text x="684.45" y="1299.50" font-size="33.86" text-anchor="middle">z</text><text transform="translate(703.20,1299.50) scale(0.9,1)" font-size="36.8" text-anchor="middle">5</text><text transform="translate(721.95,1299.50) scale(0.9,1)" font-size="36.8" text-anchor="middle">0</text><text transform="translate(740.70,1299.50) scale(0.9,1)" font-size="36.8" text-anchor="middle">0</text><text transform="translate(759.45,1299.50) scale(0.9,1)" font-size="36.8" text-anchor="middle">:</text><text transform="translate(796.95,1299.50) scale(0.9,1)" font-size="36.8" text-anchor="middle">0</text><text transform="translate(811.01,1299.50) scale(0.9,1)" font-size="36.8" text-anchor="middle">.</text><text transform="translate(834.45,1299.50) scale(0.9,1)" font-size="36.8" text-anchor="middle">6</text><text transform="translate(853.20,1299.50) scale(0.9,1)" font-size="36.8" text-anchor="middle">7</text><line x1="437.1" y1="1338.9" x2="515.7" y2="1338.9" stroke="#2ca02c" stroke-width="3.75"/><text x="553.20" y="1350.50" font-size="33.86" text-anchor="middle">r</text><text x="571.95" y="1350.50" font-size="33.86" text-anchor="middle">a</text><text x="590.70" y="1350.50" font-size="33.86" text-anchor="middle">t</text><text x="609.45" y="1350.50" font-size="33.86" text-anchor="middle">i</text><text x="628.20" y="1350.50" font-size="33.86" text-anchor="middle">o</text><text transform="translate(646.95,1350.50) scale(0.9,1)" font-size="36.8" text-anchor="middle">_</text><text x="665.70" y="1350.50" font-size="33.86" text-anchor="middle">h</text><text x="684.45" y="1350.50" font-size="33.86" text-anchor="middle">s</text><text transform="translate(703.20,1350.50) scale(0.9,1)" font-size="36.8" text-anchor="middle">3</text><text transform="translate(721.95,1350.50) scale(0.9,1)" font-size="36.8" text-anchor="middle">0</text><text transform="translate(740.70,1350.50) scale(0.9,1)" font-size="36.8" text-anchor="middle">0</text><text transform="translate(759.45,1350.50) scale(0.9,1)" font-size="36.8" text-anchor="middle">:</text><text transform="translate(796.95,1350.50) scale(0.9,1)" font-size="36.8" text-anchor="middle">0</text><text transform="translate(811.01,1350.50) scale(0.9,1)" font-size="36.8" text-anchor="middle">.</text><text transform="translate(834.45,1350.50) scale(0.9,1)" font-size="36.8" text-anchor="middle">0</text><text transform="translate(853.20,1350.50) scale(0.9,1)" font-size="36.8" text-anchor="middle">7</text><line x1="437.1" y1="1389.9" x2="515.7" y2="1389.9" stroke="#d62728" stroke-width="3.75"/><text x="553.20" y="1401.50" font-size="33.86" text-anchor="middle">r</text><text x="571.95" y="1401.50" font-size="33.86" text-anchor="middle">a</text><text x="590.70" y="1401.50" font-size="33.86" text-anchor="middle">t</text><text x="609.45" y="1401.50" font-size="33.86" text-anchor="middle">i</text><text x="628.20" y="1401.50" font-size="33.86" text-anchor="middle">o</text><text transform="translate(646.95,1401.50) scale(0.9,1)" font-size="36.8" text-anchor="middle">_</text><text x="665.70" y="1401.50" font-size="33.86" text-anchor="middle">g</text><text x="684.45" y="1401.50" font-size="33.86" text-anchor="middle">e</text><text x="703.20" y="1401.50" font-size="33.86" text-anchor="middle">i</text><text transform="translate(721.95,1401.50) scale(0.9,1)" font-size="36.8" text-anchor="middle">:</text><text transform="translate(759.45,1401.50) scale(0.9,1)" font-size="36.8" text-anchor="middle">0</text><text transform="translate(773.51,1401.50) scale(0.9,1)" font-size="36.8" text-anchor="middle">.</text><text transform="translate(796.95,1401.50) scale(0.9,1)" font-size="36.8" text-anchor="middle">5</text><text transform="translate(815.70,1401.50) scale(0.9,1)" font-size="36.8" text-anchor="middle">2</text></g>
</svg>
</body></html>
